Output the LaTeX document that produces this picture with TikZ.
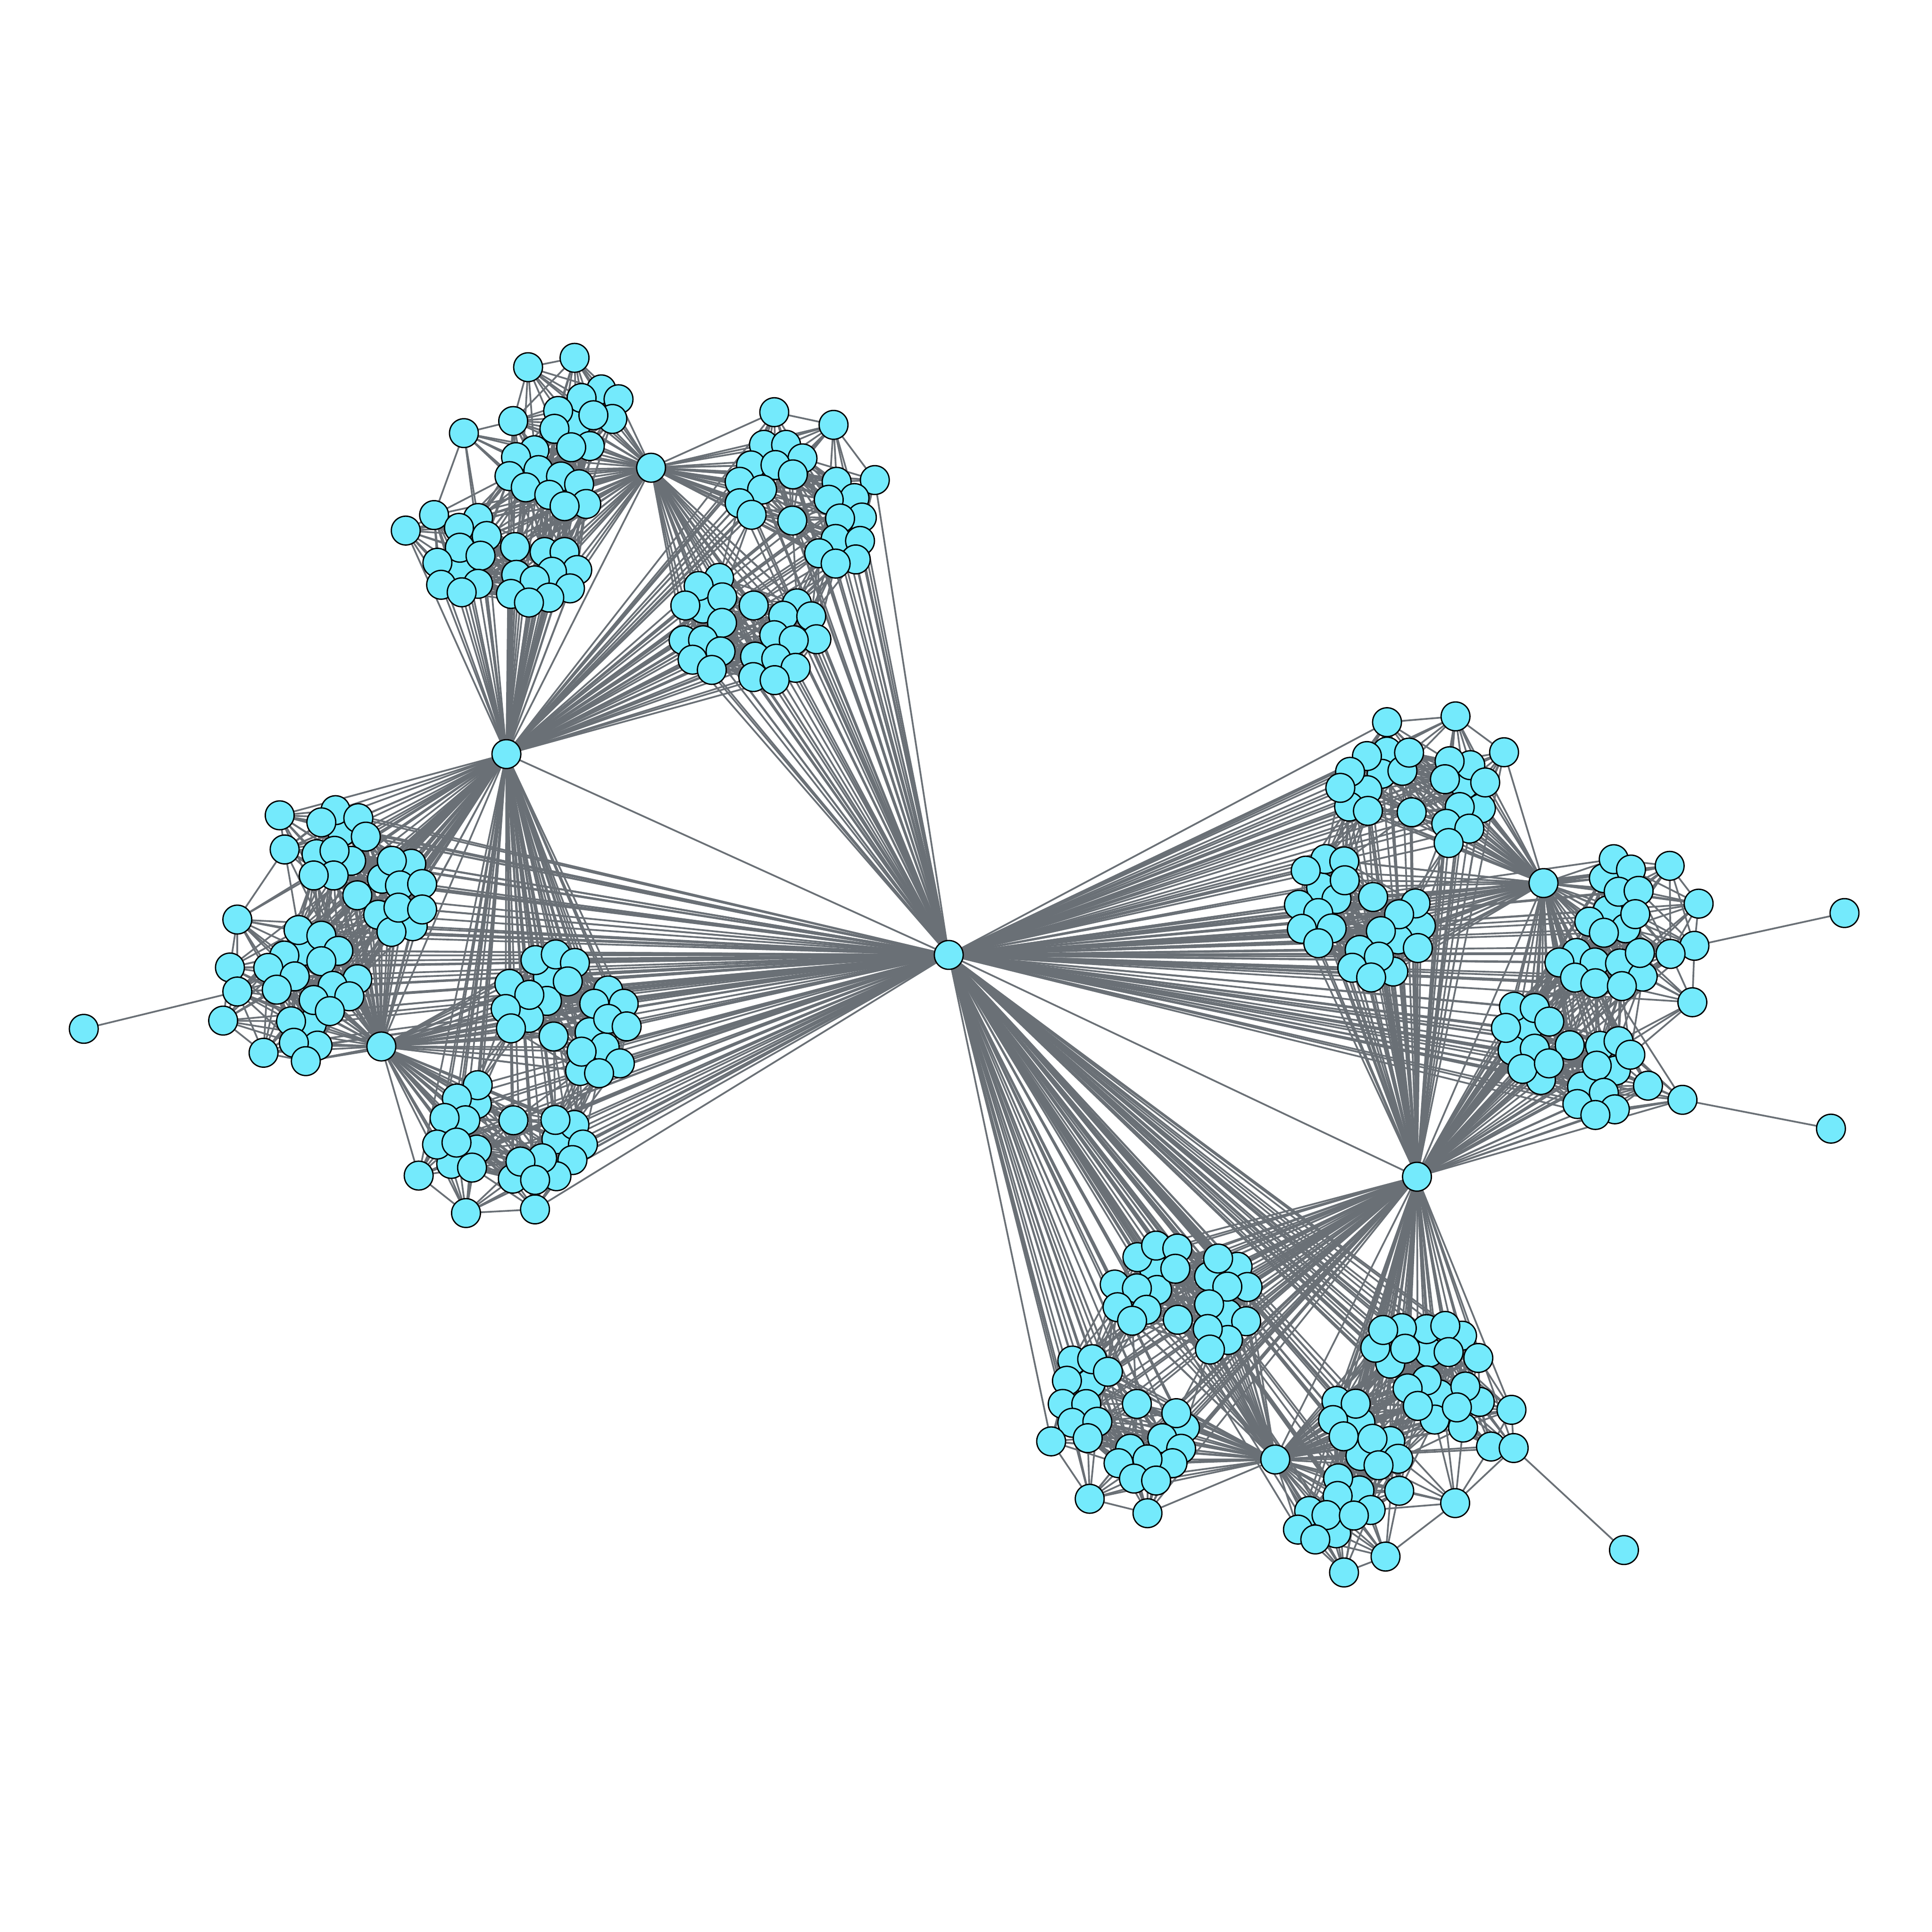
\documentclass[tikz,border=0pt]{standalone}
\usetikzlibrary{backgrounds}
\definecolor{nodefill}{RGB}{116,234,252}
\definecolor{edgecol}{RGB}{106,112,118}
\tikzset{
  vtx/.style={circle,draw=black,fill=nodefill,line width=0.3pt,minimum size=0.234cm,inner sep=0pt,outer sep=0pt},
  edge/.style={draw=edgecol,line width=0.4pt}
}
\def\listTL{467.7/344,373/460,428.6/298,466.3/290.4,488/316,472/323,502/324,453/333.5,497/340,481.6/337,416.5/341.7,450/348,376.5/351.5,478.7/362,463.6/363,433.7/365.4,418.8/371,437/381.5,455.3/386.7,413.5/386.4,470/393,426.7/395.5,445.8/401.6,475.8/409,458.2/410.8,352.3/418,388/420.4,329.3/430.6,372.5/428.4,395/435,373.2/444.5,418/444,442/448,458.2/448,390/451,355/456.7,468.5/462.6,448/464,419/466.5,434/471,388/473.8,358/474.6,462.6/477.5,374.7/480.7,414.7/482,445.8/485,429.3/489}
\def\listTT{570.6/493.9,628.4/334.5,676.5/344.8,620/361,638/361,651.3/372,609.5/377.7,629.4/377.4,643.5/385,600.3/391,618.5/397.3,679/391,710/389.6,693.5/404.2,672.6/405.6,600.3/408.4,610/417.8,643/422.5,699.5/420,681.8/420.8,678.2/437.4,698/439,664.8/449,694.5/454,678.2/457.4,583.6/469,567/475.6,586.2/484.8,556.2/491.4,586/505.5,611.7/491.4,646.8/489.7,635.7/499.7,658.4/500.2,554.8/519.6,570.6/519.6,584.8/528.7,562.1/535.4,577.7/543.7,628.4/515.5,662.6/518.8,644.2/519.6,612.8/532.9,630/534.6,645.7/542,611.4/549.5,628.7/552}
\def\listLU{277.7/674.8,253.1/830.9,246.9/771.7,227/661.7,272.3/657.5,290.8/664,260.8/667.4,296.9/679,231/689.4,285/698.6,256.9/693.2,271.5/690.5,270.8/710.5,254.6/710.5,333.8/701,310/713.2,318/698.6,324.6/718.6,342.6/717.5,290/726.6,306.9/742.4,335/751.7,317.7/756.3,323.4/736.6,342.6/738.1,192.6/746.3,242.3/754.8,260.8/759.4,274.6/771.7,230.8/775.5,217.7/785.5,260.8/780.1,239.2/792.4,186.6/785.2,192.6/804.7,224.6/803.2,290/794.7,270/800.1,283.5/808.6,254.6/811.6,267.7/820.6,181.1/828.3,236.2/828.9,257.7/848.6,238.5/846.3,213.9/854.4,248.2/861.2}
\def\listLM{444.7/793,443.9/812.3,429.3/826.1,478.5/837.7,490.8/850,387/896,451.6/924.6,434.6/779.2,451.1/774.6,466.6/781.5,460.8/796.5,413.4/798.5,429.6/807.4,410.4/818.9,414.7/834.6,449.3/841.2,493.6/803.8,482.3/814.6,506.2/814.6,493.6/826.9,508.6/833,503.1/863,470.8/869.2,472/853.5,486.2/871,387.7/880.7,370.8/891.5,377.7/909.2,360.8/907.3,387/933,366.2/944.6,354.7/928.9,370.5/927.3,383.1/947.6,339.8/954.1,416.7/909.2,378.2/984.5,434.2/981.5,466.2/913,450.8/908.9,473.1/928.9,464.6/941.5,451.6/954.6,416.2/956.6,440/940,422.4/942.7,434.3/957.6}
\def\listRU{1125.7/610,1121.4/628,1138.2/625.6,1109.7/641.3,1094.9/654.6,1188.6/636.6,1201.9/656.1,1072.2/720.2,1084.7/729.6,1153.2/751.4,1134.7/762.4,1125.7/586.1,1181.3/581.4,1220.7/610.5,1143.6/610.8,1109.4/613.6,1095.7/626.4,1087.8/639.4,1110.2/658.1,1145.7/659.2,1193.3/621,1176.5/617.8,1172.7/632.4,1205.4/635,1184.7/655,1173.8/668.6,1192.5/672.5,1175.7/684.2,1075.7/697.2,1091/699.1,1059.7/706.6,1091.4/714.4,1054.2/734.3,1069.9/741,1056.6/753.8,1080.8/753.5,1069.9/765.5,1114.4/728,1148.8/733.2,1135.5/742,1120.7/755.7,1150.7/769.4,1103.5/771,1130.8/788.5,1119.1/776.4,1097.5/785.4,1112.8/793.3}
\def\listRR{1301.7/712.7,1304.8/738.8,1319.4/753.4,1279.4/773.4,1294.3/781.1,1314.8/781.9,1333.2/792.6,1239.4/835.7,1227.6/852.6,1250.6/876.5,1298.6/848.8,1311.4/868.8,1284/881.8,1309.7/697.3,1323.7/705.7,1355.1/702.7,1313.7/723.7,1329.9/723,1378.6/733.4,1327.2/741.9,1289.9/748,1301.7/757,1375.2/767.6,1355.8/774.2,1330.9/773.4,1265.6/781.1,1278.3/793.4,1294.8/798,1316.3/800.3,1373.5/813.4,1228.7/817,1245.6/818.1,1222.2/834.2,1257.4/829.1,1274/848.3,1245.6/851.1,1235.6/867.5,1257.1/863,1313.6/845,1323.2/856,1295.9/864.9,1337.5/881.1,1301.7/886.9,1280.2/896,1310.6/900.3,1294.8/904.9,1365.5/892.6}
\def\listBU{936.7/1029.7,939.1/1046.9,981.3/1035.9,996.1/1066.4,885.2/1122.7,961.7/1158.6,923.1/1020.3,938.3/1010.9,955.5/1013.3,953.9/1029.7,904.7/1042.5,922.7/1045.6,907/1060.9,930.5/1063,918.8/1071.9,955.9/1071.1,1004.4/1028.1,988.6/1021.4,1012.5/1044.5,996.1/1044.2,981.3/1058.6,1011.4/1072.3,996.6/1087.5,980.2/1078.6,982/1095.3,870.3/1104.2,886.4/1103.1,899.2/1113.3,865.9/1120.6,862.5/1139.4,881.6/1139.5,870.3/1154.7,890.6/1153.9,882.8/1167.2,853.1/1169.8,922.7/1139.4,954.7/1146.9,943.3/1167.2,958.6/1175.8,917.2/1175.8,907.8/1187.5,951.6/1187.5,931.3/1184.4,920.3/1200,938.3/1201.6,884.4/1216.4,931.3/1228.1}
\def\listBR{1160.1/1097.6,1128.3/1106.7,1168/1131.6,1104.1/1154.4,1128.3/1169.5,1104.1/1181.6,1103.3/1209.6,1084.4/1244.4,1186.6/1084,1157.8/1078.7,1137.7/1077.9,1116.2/1093.8,1122.6/1079.4,1140.4/1094.6,1173/1076.1,1175.7/1097.3,1199.8/1102.1,1157.8/1120.3,1142.4/1126.8,1201/1137.7,1189.3/1125.3,1164.4/1152.1,1150.7/1141,1187.4/1158.6,1182.4/1142.2,1226.7/1144.2,1210.1/1174,1228.5/1175.2,1181/1219.9,1084.7/1137,1100.3/1139.2,1081.9/1152.5,1090.5/1165.7,1134.8/1183.9,1113.9/1167.7,1118.8/1189.2,1135.6/1209.9,1086/1199.8,1085.6/1214.1,1112.4/1225.5,1062.5/1226.3,1053.4/1241.4,1076.6/1229.6,1098.8/1230,1067.5/1249.4,1124.5/1263.3,1090.8/1276.2}

\newcommand\placegroup[2]{%
  \foreach \px/\py [count=\i] in #2 {\node[vtx] (#1\i) at (\px,\py) {}; \xdef\lastcount{\i}}%
  \expandafter\xdef\csname n#1\endcsname{\lastcount}}
\newcommand\intraedges[3]{%
  \foreach \xa/\ya [count=\i] in #2 {%
    \foreach \xb/\yb [count=\j] in #2 {%
      \ifnum\j>\i
        \pgfmathparse{veclen(\xa-\xb,\ya-\yb)<#3 ? 1 : 0}%
        \ifdim\pgfmathresult pt>0.5pt \draw[edge] (#1\i) -- (#1\j);\fi
      \fi
    }}}
\newcommand\fan[2]{%
  \expandafter\let\expandafter\tmpn\csname n#2\endcsname
  \foreach \k in {1,...,\tmpn} {\draw[edge] (#1) -- (#2\k);}}

\begin{document}
\begin{tikzpicture}[x=0.01cm,y=-0.01cm]
\useasboundingbox (0,0) rectangle (1568,1568);
% groups
\placegroup{tl}{\listTL}
\placegroup{tt}{\listTT}
\placegroup{lu}{\listLU}
\placegroup{lm}{\listLM}
\placegroup{ru}{\listRU}
\placegroup{rr}{\listRR}
\placegroup{bu}{\listBU}
\placegroup{br}{\listBR}
% hubs
\node[vtx] (C) at (770,775) {};
\node[vtx] (T) at (411,612) {};
\node[vtx] (A) at (528.4,379.6) {};
\node[vtx] (L) at (309.5,849.3) {};
\node[vtx] (R) at (1252.7,716.7) {};
\node[vtx] (S) at (1150,955) {};
\node[vtx] (B) at (1035,1184.5) {};
% leaves
\node[vtx] (lf1) at (68,835) {};
\node[vtx] (lf2) at (1497,741) {};
\node[vtx] (lf3) at (1486,916) {};
\node[vtx] (lf4) at (1318,1258) {};
\begin{pgfonlayer}{background}
\fill[white] (0,0) rectangle (1568,1568);
\intraedges{tl}{\listTL}{72}
\intraedges{tt}{\listTT}{72}
\intraedges{lu}{\listLU}{72}
\intraedges{lm}{\listLM}{72}
\intraedges{ru}{\listRU}{72}
\intraedges{rr}{\listRR}{72}
\intraedges{bu}{\listBU}{72}
\intraedges{br}{\listBR}{72}
\fan{T}{tl}\fan{T}{tt}\fan{T}{lu}\fan{T}{lm}
\fan{A}{tl}\fan{A}{tt}
\fan{L}{lu}\fan{L}{lm}
\fan{C}{tt}\fan{C}{lu}\fan{C}{lm}\fan{C}{ru}\fan{C}{rr}\fan{C}{bu}\fan{C}{br}
\fan{R}{ru}\fan{R}{rr}
\fan{S}{ru}\fan{S}{rr}\fan{S}{bu}\fan{S}{br}
\fan{B}{bu}\fan{B}{br}
\draw[edge] (C) -- (T);
\draw[edge] (C) -- (S);
\draw[edge] (T) -- (A);
\draw[edge] (T) -- (L);
\draw[edge] (R) -- (S);
\draw[edge] (S) -- (B);
\draw[edge] (lf1) -- (lu35);
\draw[edge] (lf2) -- (rr23);
\draw[edge] (lf3) -- (rr47);
\draw[edge] (lf4) -- (br28);
\end{pgfonlayer}
\end{tikzpicture}
\end{document}
